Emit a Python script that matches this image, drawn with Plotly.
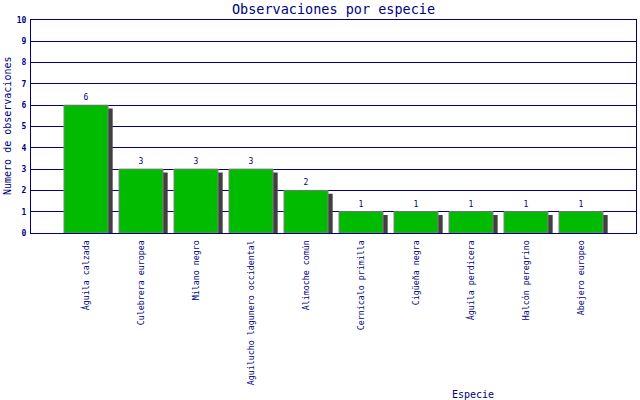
import plotly.graph_objects as go

especies = ["Águila calzada", "Culebrera europea", "Milano negro",
            "Aguilucho lagunero occidental", "Alimoche común",
            "Cernícalo primilla", "Cigüeña negra", "Águila perdicera",
            "Halcón peregrino", "Abejero europeo"]
observaciones = [6, 3, 3, 3, 2, 1, 1, 1, 1, 1]
y_ticks = list(range(0, 11))

NAVY = "#000080"
FONT = "DejaVu Sans Mono"
pos = list(range(len(especies)))

L, R, T, B = 31, 636, 20, 233  # plot area in pixels


def px_x(px):
    return (px - L) / (R - L)


def px_y(py):
    return (B - py) / (B - T)


fig = go.Figure()
# shadow
fig.add_trace(go.Bar(
    x=pos, y=observaciones, base=-0.16, width=0.8, offset=-0.4 + 0.085,
    marker=dict(color="#404040", line=dict(width=0)),
    hoverinfo="skip", showlegend=False))
# bars
fig.add_trace(go.Bar(
    x=pos, y=observaciones, width=0.8,
    marker=dict(color="#00BB00", line=dict(color="#808080", width=1)),
    text=[str(v) for v in observaciones], textposition="outside",
    textfont=dict(family=FONT, size=8, color=NAVY),
    cliponaxis=False, showlegend=False))

fig.update_layout(
    width=640, height=400,
    margin=dict(l=L, r=640 - R, t=T, b=400 - B),
    paper_bgcolor="white", plot_bgcolor="white",
    barmode="overlay",
    uniformtext=dict(minsize=8, mode="show"),
    title=dict(text="Observaciones por especie", x=(L + R) / 2 / 640,
               xanchor="center", y=1 - 9 / 400, yanchor="middle",
               font=dict(family=FONT, size=13.5, color=NAVY)),
    font=dict(family=FONT, color=NAVY),
    xaxis=dict(range=[-1, 10], tickmode="array", tickvals=pos,
               ticktext=especies, tickangle=-90,
               tickfont=dict(family=FONT, size=8.3, color=NAVY),
               showgrid=False, zeroline=False,
               showline=True, linecolor=NAVY, linewidth=1, mirror=True,
               ticks="", ticklen=0, ticklabelstandoff=3),
    yaxis=dict(range=[0, 10], tickmode="array", tickvals=y_ticks,
               tickfont=dict(family=FONT, size=8, color=NAVY, weight="bold"),
               showgrid=True, gridcolor=NAVY, gridwidth=1,
               zeroline=False, showline=True, linecolor=NAVY, linewidth=1,
               mirror=True, ticks="", ticklabelstandoff=2),
)
fig.add_annotation(text="Numero de observaciones", x=px_x(8), y=px_y(126),
                   xref="paper", yref="paper", xanchor="center", yanchor="middle",
                   textangle=-90, showarrow=False,
                   font=dict(family=FONT, size=10, color=NAVY))
fig.add_annotation(text="Especie", x=px_x(473), y=px_y(394),
                   xref="paper", yref="paper", xanchor="center", yanchor="middle",
                   showarrow=False, font=dict(family=FONT, size=10, color=NAVY))

fig.write_html("out.html", config={"displayModeBar": False},
               post_script="document.body.style.margin='0';document.body.style.padding='0';")
